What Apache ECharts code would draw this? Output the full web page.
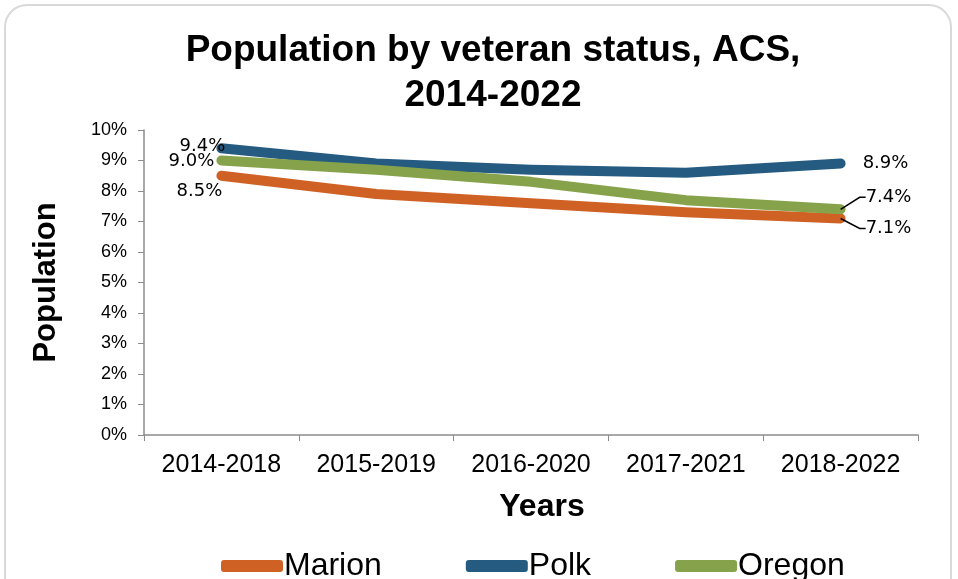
<!DOCTYPE html>
<html lang="en">
<head>
    <meta charset="UTF-8">
    <title>Population by veteran status</title>
    <script src="https://cdn.jsdelivr.net/npm/echarts@6.0.0/dist/echarts.min.js"></script>
    <style>
        html, body { margin: 0; padding: 0; background: #fff; }
        #chart { width: 958px; height: 579px; }
    </style>
</head>
<body>
    <div id="chart"></div>
    <script>
        // data
        var years = ['2014-2018', '2015-2019', '2016-2020', '2017-2021', '2018-2022'];
        var marion = [8.5, 7.9, 7.6, 7.3, 7.1];
        var polk = [9.4, 8.9, 8.7, 8.6, 8.9];
        var oregon = [9.0, 8.7, 8.3, 7.7, 7.4];
        var yTicks = [0, 1, 2, 3, 4, 5, 6, 7, 8, 9, 10];

        var font = "'Liberation Sans', Arial, sans-serif";
        var labelFont = "'DejaVu Sans', sans-serif";

        // only first and last points get a label
        function withLabels(values) {
            return values.map(function (v, i) {
                var item = { value: v };
                if (i === 0) {
                    item.label = { show: true, position: 'left' };
                    item.labelLine = { show: false };
                } else if (i === values.length - 1) {
                    item.label = { show: true, position: 'right' };
                } else {
                    item.label = { show: false };
                }
                return item;
            });
        }

        // firstMove / lastMove: [dx, dy] applied by labelLayout
        function lineSeries(name, color, values, firstMove, lastMove, leader) {
            var n = values.length;
            return {
                name: name, type: 'line',
                symbol: 'circle', symbolSize: 0.1, showSymbol: true,
                color: color,
                lineStyle: { width: 10, cap: 'round', join: 'round' },
                emphasis: { disabled: true },
                label: {
                    formatter: function (p) { return p.value.toFixed(1) + '%'; },
                    fontFamily: labelFont, fontSize: 18, color: '#000'
                },
                labelLine: { show: !!leader, length2: 6, lineStyle: { color: '#000', width: 1.5 } },
                labelLayout: function (p) {
                    if (p.dataIndex === 0) return { dx: firstMove[0], dy: firstMove[1] };
                    if (p.dataIndex === n - 1) return { dx: lastMove[0], dy: lastMove[1] };
                },
                data: withLabels(values)
            };
        }

        var myChart = echarts.init(document.getElementById('chart'));
        var option = {
            animation: false,
            graphic: [{
                type: 'rect',
                shape: { x: 5, y: 5, width: 946, height: 620, r: 22 },
                style: { fill: 'none', stroke: '#d9d9d9', lineWidth: 2 },
                z: -1
            }],
            title: {
                text: 'Population by veteran status, ACS,\n2014-2022',
                left: 488,
                textAlign: 'center',
                top: 23,
                textStyle: {
                    fontFamily: font, fontWeight: 'bold', fontSize: 37,
                    lineHeight: 45, color: '#000'
                }
            },
            legend: {
                bottom: -8,
                left: 216,
                itemGap: 84,
                itemWidth: 62,
                itemHeight: 12,
                icon: 'roundRect',
                textStyle: { fontFamily: font, fontSize: 32, color: '#000', padding: [0, 0, 0, -4] },
                data: ['Marion', 'Polk', 'Oregon']
            },
            grid: { left: 144, right: 40, top: 130, bottom: 144 },
            xAxis: {
                type: 'category',
                data: years,
                name: 'Years',
                nameLocation: 'middle',
                nameGap: 56,
                nameTextStyle: { fontFamily: font, fontWeight: 'bold', fontSize: 32, color: '#000', padding: [0, 0, 0, 22] },
                axisLine: { lineStyle: { color: '#8c8c8c', width: 1.5 } },
                axisTick: { show: true, length: 6, lineStyle: { color: '#8c8c8c' } },
                axisLabel: { fontFamily: font, fontSize: 25, color: '#000', margin: 18, interval: 0 }
            },
            yAxis: {
                type: 'value',
                min: 0,
                max: 10,
                interval: 1,
                name: 'Population',
                nameLocation: 'middle',
                nameGap: 82,
                nameTextStyle: { fontFamily: font, fontWeight: 'bold', fontSize: 31, color: '#000' },
                axisLine: { show: true, lineStyle: { color: '#8c8c8c', width: 1.5 } },
                axisTick: { show: true, length: 6, lineStyle: { color: '#8c8c8c' } },
                splitLine: { show: false },
                axisLabel: {
                    fontFamily: font, fontSize: 18, color: '#000', margin: 17,
                    formatter: function (v) { return yTicks.indexOf(v) >= 0 ? v + '%' : ''; }
                }
            },
            series: [
                lineSeries('Marion', '#d06125', marion, [6, 16], [20, 10], true),
                lineSeries('Polk', '#255b80', polk, [9, -2], [17, 0], false),
                lineSeries('Oregon', '#86a34b', oregon, [-2, 1], [20, -12], true)
            ]
        };
        myChart.setOption(option);
    </script>
</body>
</html>
